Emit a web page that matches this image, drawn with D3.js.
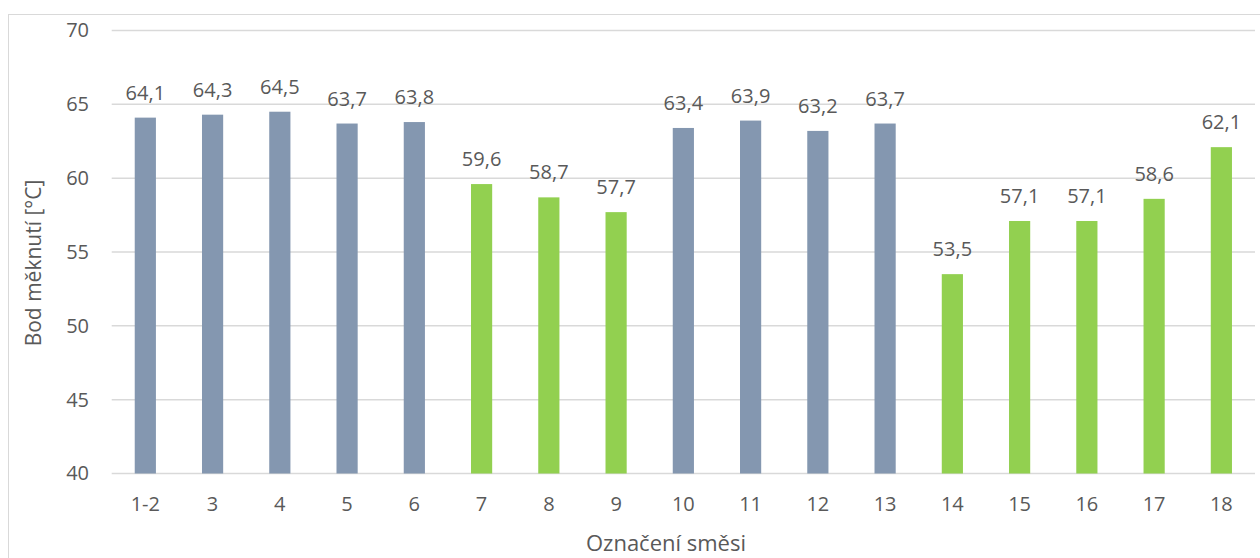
<!DOCTYPE html>
<html>
<head>
<meta charset="utf-8">
<script src="https://cdn.jsdelivr.net/npm/d3@7"></script>
<style>
  html, body { margin: 0; padding: 0; background: #fff; }
  svg { display: block; font-family: "Open Sans", sans-serif; }
</style>
</head>
<body>
<svg id="chart" width="1260" height="558"></svg>
<script>
// Softening point of each mixture
const categories = ["1-2", "3", "4", "5", "6", "7", "8", "9", "10", "11", "12", "13", "14", "15", "16", "17", "18"];
const values = [64.1, 64.3, 64.5, 63.7, 63.8, 59.6, 58.7, 57.7, 63.4, 63.9, 63.2, 63.7, 53.5, 57.1, 57.1, 58.6, 62.1];
const groups = ["a", "a", "a", "a", "a", "b", "b", "b", "a", "a", "a", "a", "b", "b", "b", "b", "b"];
const yTicks = [40, 45, 50, 55, 60, 65, 70];
const groupColors = { a: "#8497b0", b: "#92d050" };

const svg = d3.select("#chart");
const textColor = "#595959";
const gridColor = "#d9d9d9";

const plot = { left: 111.7, right: 1255, top: 30.5, bottom: 473.5 };

// outer chart border
svg.append("rect")
  .attr("x", 8.5).attr("y", 14.5)
  .attr("width", 1300).attr("height", 600)
  .attr("fill", "none").attr("stroke", gridColor).attr("stroke-width", 1);

const x = d3.scaleBand().domain(categories).range([plot.left, plot.right]).paddingInner(0.685).paddingOuter(0.3425);
const y = d3.scaleLinear().domain([40, 70]).range([plot.bottom, plot.top]);

// horizontal gridlines
svg.append("g").selectAll("line").data(yTicks).join("line")
  .attr("x1", plot.left).attr("x2", plot.right)
  .attr("y1", d => y(d)).attr("y2", d => y(d))
  .attr("stroke", gridColor).attr("stroke-width", 1.5);

// y axis labels
const yAxis = d3.axisLeft(y).tickValues(yTicks).tickSize(0).tickPadding(0).tickFormat(d3.format("d"));
const yg = svg.append("g").attr("transform", `translate(${89},0)`).call(yAxis);
yg.select(".domain").remove();
yg.selectAll("text").attr("fill", textColor).attr("font-size", 20).attr("font-family", "Open Sans");

// x axis labels
const xAxis = d3.axisBottom(x).tickSize(0).tickPadding(0);
const xg = svg.append("g").attr("transform", `translate(0,${497})`).call(xAxis);
xg.select(".domain").remove();
xg.selectAll("text").attr("fill", textColor).attr("font-size", 20).attr("font-family", "Open Sans").attr("dy", "0.71em");

// bars
svg.append("g").selectAll("rect").data(values).join("rect")
  .attr("x", (d, i) => x(categories[i]))
  .attr("width", x.bandwidth())
  .attr("y", d => y(d))
  .attr("height", d => y(40) - y(d))
  .attr("fill", (d, i) => groupColors[groups[i]]);

// value labels
const fmt = d => d3.format(".1f")(d).replace(".", ",");
svg.append("g").selectAll("text").data(values).join("text")
  .attr("x", (d, i) => x(categories[i]) + x.bandwidth() / 2)
  .attr("y", d => y(d) - 18)
  .attr("text-anchor", "middle")
  .attr("fill", textColor)
  .attr("font-size", 20)
  .text(fmt);

// axis titles
svg.append("text")
  .attr("x", 666).attr("y", 551)
  .attr("text-anchor", "middle")
  .attr("fill", textColor)
  .attr("font-size", 22)
  .text("Označení směsi");

svg.append("text")
  .attr("transform", `translate(41,${263}) rotate(-90)`)
  .attr("text-anchor", "middle")
  .attr("fill", textColor)
  .attr("font-size", 21)
  .text("Bod měknutí [°C]");
</script>
</body>
</html>
